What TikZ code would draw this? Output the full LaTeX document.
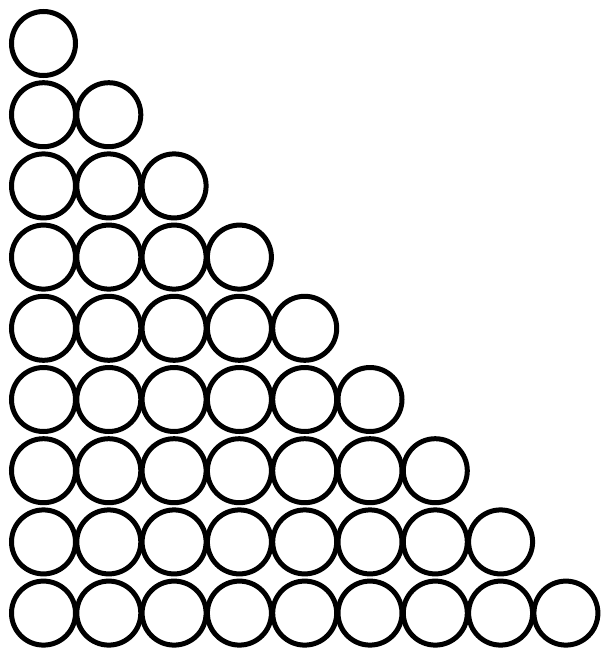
\documentclass[tikz,border=0pt]{standalone}
\usepackage{tikz}
\usetikzlibrary{positioning}

\begin{document}
\begin{tikzpicture}[
  x=1pt, y=-1pt,
  ball/.style={draw, circle, line width=5pt, inner sep=0pt,
               minimum size=64pt}
]
  \useasboundingbox (0,0) rectangle (602,648);
  % triangle of circles, row r holds r circles
  \foreach \r in {1,...,9} {
    \foreach \c in {1,...,\r} {
      \node[ball] (b-\r-\c) at ({43.5+65.3*(\c-1)}, {43.5+71.2*(\r-1)}) {};
    }
  }
\end{tikzpicture}
\end{document}
